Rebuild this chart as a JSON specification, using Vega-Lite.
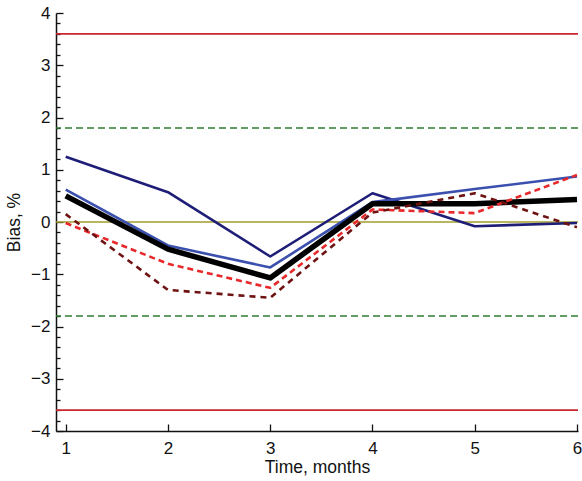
{
  "$schema": "https://vega.github.io/schema/vega-lite/v6.json",
  "autosize": "none",
  "width": 522,
  "height": 418,
  "padding": {"left": 56, "top": 13, "right": 4, "bottom": 50},
  "background": "white",
  "config": {
    "view": {"stroke": null},
    "axis": {
      "labelFont": "Liberation Sans",
      "titleFont": "Liberation Sans",
      "titleFontWeight": "normal",
      "labelColor": "#111111",
      "titleColor": "#111111",
      "domainColor": "#111111",
      "tickColor": "#111111",
      "domainWidth": 1.5,
      "tickWidth": 1.3,
      "grid": false
    }
  },
  "datasets": {
    "refs": [
      {"v": 3.6, "kind": "limit"},
      {"v": -3.6, "kind": "limit"},
      {"v": 1.8, "kind": "warn"},
      {"v": -1.8, "kind": "warn"},
      {"v": 0, "kind": "zero"}
    ],
    "series": [
      {"month": 1, "bias": 1.25, "s": "navy"},
      {"month": 2, "bias": 0.57, "s": "navy"},
      {"month": 3, "bias": -0.66, "s": "navy"},
      {"month": 4, "bias": 0.55, "s": "navy"},
      {"month": 5, "bias": -0.08, "s": "navy"},
      {"month": 6, "bias": -0.02, "s": "navy"},
      {"month": 1, "bias": 0.62, "s": "blue"},
      {"month": 2, "bias": -0.45, "s": "blue"},
      {"month": 3, "bias": -0.87, "s": "blue"},
      {"month": 4, "bias": 0.38, "s": "blue"},
      {"month": 5, "bias": 0.63, "s": "blue"},
      {"month": 6, "bias": 0.87, "s": "blue"},
      {"month": 1, "bias": 0.5, "s": "mean"},
      {"month": 2, "bias": -0.52, "s": "mean"},
      {"month": 3, "bias": -1.07, "s": "mean"},
      {"month": 4, "bias": 0.35, "s": "mean"},
      {"month": 5, "bias": 0.35, "s": "mean"},
      {"month": 6, "bias": 0.43, "s": "mean"},
      {"month": 1, "bias": -0.02, "s": "red"},
      {"month": 2, "bias": -0.8, "s": "red"},
      {"month": 3, "bias": -1.26, "s": "red"},
      {"month": 4, "bias": 0.24, "s": "red"},
      {"month": 5, "bias": 0.17, "s": "red"},
      {"month": 6, "bias": 0.9, "s": "red"},
      {"month": 1, "bias": 0.15, "s": "darkred"},
      {"month": 2, "bias": -1.3, "s": "darkred"},
      {"month": 3, "bias": -1.45, "s": "darkred"},
      {"month": 4, "bias": 0.18, "s": "darkred"},
      {"month": 5, "bias": 0.55, "s": "darkred"},
      {"month": 6, "bias": -0.1, "s": "darkred"}
    ]
  },
  "resolve": {
    "axis": {"y": "independent"},
    "scale": {"color": "independent", "strokeDash": "independent"}
  },
  "layer": [
    {
      "data": {"name": "refs"},
      "mark": {"type": "rule", "strokeWidth": 1.6},
      "encoding": {
        "y": {
          "field": "v",
          "type": "quantitative",
          "scale": {"domain": [-4, 4], "nice": false, "zero": false},
          "axis": {
            "orient": "left",
            "values": [-3.8, -3.6, -3.4, -3.2, -2.8, -2.6, -2.4, -2.2, -1.8, -1.6, -1.4, -1.2, -0.8, -0.6, -0.4, -0.2, 0.2, 0.4, 0.6, 0.8, 1.2, 1.4, 1.6, 1.8, 2.2, 2.4, 2.6, 2.8, 3.2, 3.4, 3.6, 3.8],
            "labels": false,
            "domain": false,
            "tickSize": -4,
            "title": null
          }
        },
        "color": {
          "field": "kind",
          "type": "nominal",
          "scale": {"domain": ["limit", "warn", "zero"], "range": ["#c8282e", "#2e7d32", "#a39d2e"]},
          "legend": null
        },
        "strokeDash": {
          "field": "kind",
          "type": "nominal",
          "scale": {"domain": ["limit", "warn", "zero"], "range": [[1, 0], [7, 4], [1, 0]]},
          "legend": null
        }
      }
    },
    {
      "data": {"name": "series"},
      "transform": [{"filter": "datum.s === 'navy' || datum.s === 'blue'"}],
      "mark": {"type": "line", "strokeJoin": "round", "strokeWidth": 2.6},
      "encoding": {
        "x": {
          "field": "month",
          "type": "quantitative",
          "scale": {"domain": [0.905, 6.01], "nice": false, "zero": false},
          "axis": {
            "values": [1, 2, 3, 4, 5, 6],
            "format": "d",
            "tickSize": -7,
            "labelPadding": 16,
            "labelFontSize": 17,
            "title": "Time, months",
            "titleFontSize": 17.5,
            "titleY": 41,
            "titleBaseline": "alphabetic"
          }
        },
        "y": {
          "field": "bias",
          "type": "quantitative",
          "scale": {"domain": [-4, 4], "nice": false, "zero": false},
          "axis": {
            "orient": "left",
            "values": [-4, -3, -2, -1, 0, 1, 2, 3, 4],
            "format": "d",
            "tickSize": -7,
            "labelPadding": 13,
            "labelFontSize": 17,
            "title": "Bias, %",
            "titleFontSize": 17.5,
            "titleX": -42,
            "titleY": 209,
            "titleBaseline": "middle",
            "titleAngle": -90
          }
        },
        "color": {
          "field": "s",
          "type": "nominal",
          "scale": {"domain": ["navy", "blue"], "range": ["#1e1e78", "#3b4fae"]},
          "legend": null
        }
      }
    },
    {
      "data": {"name": "series"},
      "transform": [{"filter": "datum.s === 'mean'"}],
      "mark": {"type": "line", "strokeJoin": "round", "strokeWidth": 5.5, "color": "#000000"},
      "encoding": {
        "x": {"field": "month", "type": "quantitative"},
        "y": {"field": "bias", "type": "quantitative", "axis": null}
      }
    },
    {
      "data": {"name": "series"},
      "transform": [{"filter": "datum.s === 'red' || datum.s === 'darkred'"}],
      "mark": {"type": "line", "strokeJoin": "round", "strokeWidth": 2.6},
      "encoding": {
        "x": {"field": "month", "type": "quantitative"},
        "y": {"field": "bias", "type": "quantitative", "axis": null},
        "color": {
          "field": "s",
          "type": "nominal",
          "scale": {"domain": ["red", "darkred"], "range": ["#e8282a", "#6e1212"]},
          "legend": null
        },
        "strokeDash": {
          "field": "s",
          "type": "nominal",
          "scale": {"domain": ["red", "darkred"], "range": [[6, 4], [6, 5]]},
          "legend": null
        }
      }
    }
  ]
}
